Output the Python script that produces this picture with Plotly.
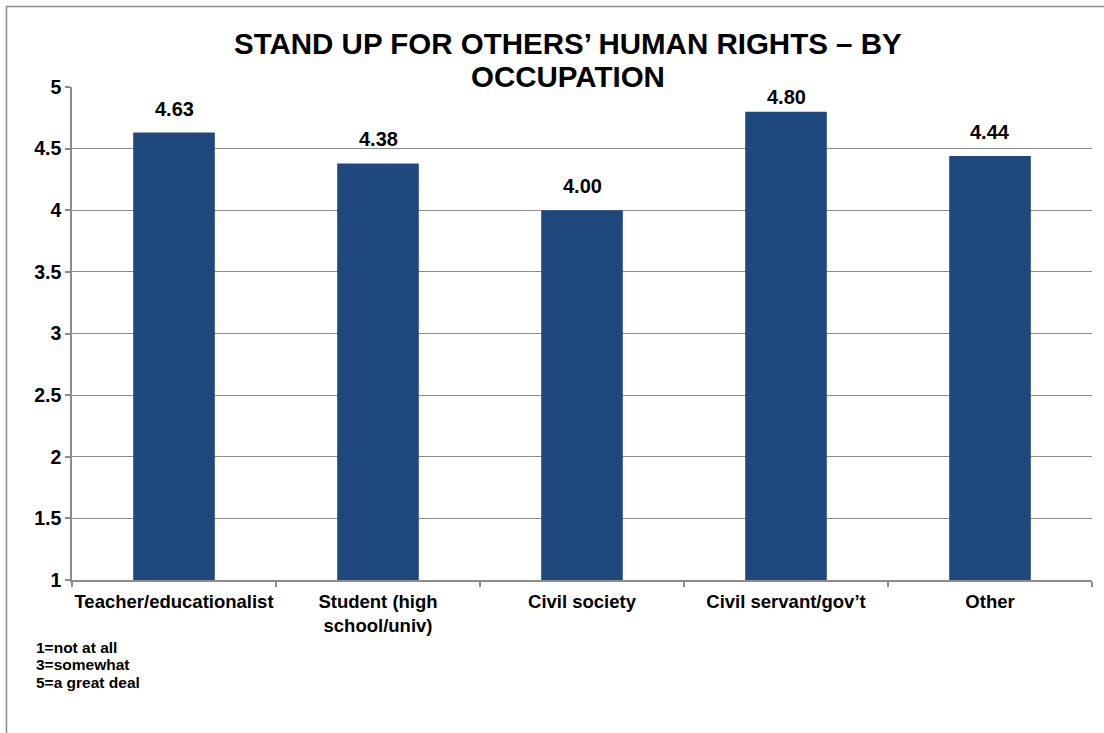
import plotly.graph_objects as go

categories = ["Teacher/educationalist", "Student (high<br>school/univ)", "Civil society",
              "Civil servant/gov’t", "Other"]
values = [4.63, 4.38, 4.00, 4.80, 4.44]
value_labels = ["4.63", "4.38", "4.00", "4.80", "4.44"]
y_ticks = [1, 1.5, 2, 2.5, 3, 3.5, 4, 4.5, 5]
y_tick_labels = ["1", "1.5", "2", "2.5", "3", "3.5", "4", "4.5", "5"]
title_lines = ["STAND UP FOR OTHERS’ HUMAN RIGHTS – BY", "OCCUPATION"]
footnote = ["1=not at all", "3=somewhat", "5=a great deal"]

FONT = "Liberation Sans, Arial, sans-serif"
W, H = 1104, 733
L, R, T, B = 72, 12, 87, 153
PW, PH = W - L - R, H - T - B

def px_x(px):
    return (px - L) / PW

def px_y(py):
    return (H - B - py) / PH

fig = go.Figure()
fig.add_trace(go.Bar(
    x=categories, y=values, base=0,
    marker=dict(color="#1F497D", line=dict(width=0)),
    width=0.4, hoverinfo="skip",
))

annotations = []
for c, v, t in zip(categories, values, value_labels):
    annotations.append(dict(
        x=c, y=min(v + 0.09, 4.81), xref="x", yref="y", text="<b>%s</b>" % t,
        showarrow=False, yanchor="bottom", font=dict(family=FONT, size=20, color="#000"),
    ))

annotations.append(dict(x=px_x(568), y=px_y(44), xref="paper", yref="paper",
                        text="<b>%s</b>" % title_lines[0], showarrow=False,
                        xanchor="center", yanchor="middle",
                        font=dict(family=FONT, size=29.5, color="#000")))
annotations.append(dict(x=px_x(568), y=px_y(77), xref="paper", yref="paper",
                        text="<b>%s</b>" % title_lines[1], showarrow=False,
                        xanchor="center", yanchor="middle",
                        font=dict(family=FONT, size=29.5, color="#000")))
for i, line in enumerate(footnote):
    annotations.append(dict(x=px_x(34), y=px_y(647 + i * 17.5), xref="paper", yref="paper",
                            text="<b>%s</b>" % line, showarrow=False,
                            xanchor="left", yanchor="middle",
                            font=dict(family=FONT, size=15.5, color="#000")))

fig.update_layout(
    width=W, height=H,
    margin=dict(l=L, r=R, t=T, b=B, pad=0),
    paper_bgcolor="white", plot_bgcolor="white",
    showlegend=False,
    bargap=0.6,
    annotations=annotations,
    font=dict(family=FONT, size=14, color="#000"),
    shapes=[dict(type="rect", xref="paper", yref="paper",
                 x0=px_x(6.5), x1=px_x(1120), y0=px_y(760), y1=px_y(6.5),
                 line=dict(color="#8c8c8c", width=1.5), fillcolor="rgba(0,0,0,0)",
                 layer="below")],
)
fig.update_xaxes(
    type="category", showgrid=False, showline=True, linecolor="#8c8c8c", linewidth=1.5,
    ticks="outside", tickson="boundaries", ticklen=5, tickcolor="#8c8c8c", tickwidth=1.5,
    tickfont=dict(family=FONT, size=18.5, color="#000"), tickangle=0,
    ticklabelstandoff=4,
    tickprefix="<b>", ticksuffix="</b>",
)
fig.update_yaxes(
    range=[1, 5], tickvals=y_ticks, ticktext=["<b>%s</b>" % t for t in y_tick_labels],
    showgrid=True, gridcolor="#8c8c8c", gridwidth=1,
    showline=True, linecolor="#8c8c8c", linewidth=1.5,
    ticks="outside", ticklen=5, tickcolor="#8c8c8c", tickwidth=1.5,
    tickfont=dict(family=FONT, size=19.5, color="#000"), zeroline=False,
)
fig.write_html("out.html")
